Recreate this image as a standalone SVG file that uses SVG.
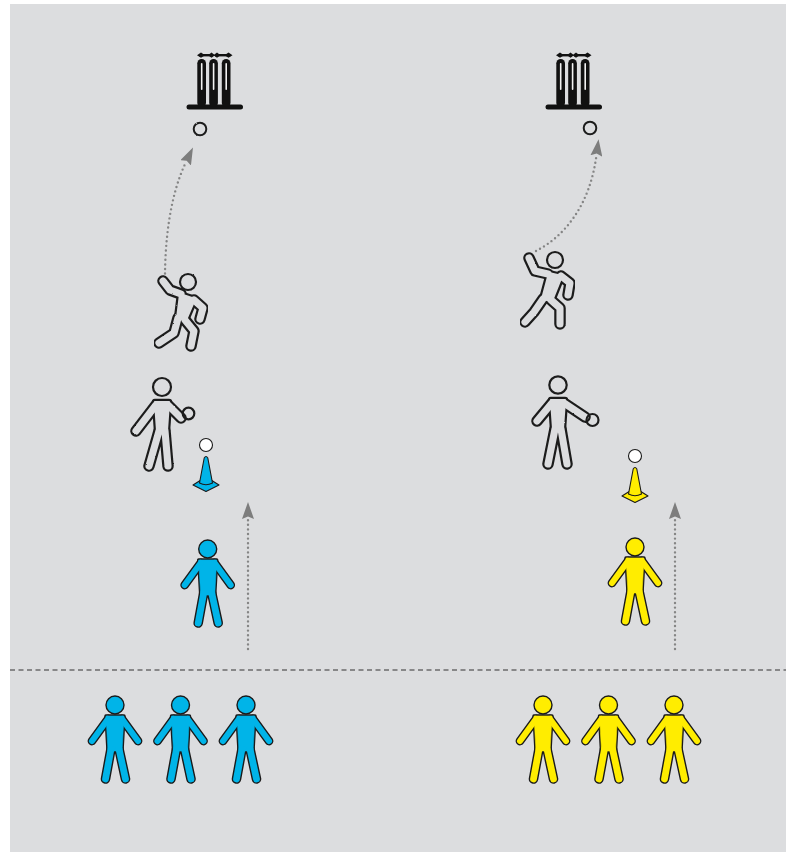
<svg xmlns="http://www.w3.org/2000/svg" xmlns:xlink="http://www.w3.org/1999/xlink" width="790" height="852" viewBox="0 0 790 852">
  <style>
    .dots { fill: none; stroke: #858585; stroke-width: 2.4; stroke-linecap: round; stroke-dasharray: 0 4.6; }
    .line { stroke: #333; stroke-width: 1.2; stroke-dasharray: 5 3.5; fill: none; }
    /* outlined (ghost) figures: dark pass then field-coloured pass */
    .ghost { filter: url(#rough); }
    .ot { fill: #1e1e1e; stroke: #1e1e1e; stroke-width: 6.4; stroke-linejoin: round; }
    .ol { fill: none; stroke: #1e1e1e; stroke-width: 11.5; stroke-linecap: round; stroke-linejoin: round; }
    .it { fill: #dcdddf; stroke: #dcdddf; stroke-width: 2; stroke-linejoin: round; }
    .il { fill: none; stroke: #dcdddf; stroke-width: 7.1; stroke-linecap: round; stroke-linejoin: round; }
    .oh { fill: none; stroke: #1e1e1e; stroke-width: 2.2; }
    /* solid player */
    .kt { fill: #1a1a1a; stroke: #1a1a1a; stroke-width: 3.4; stroke-linejoin: round; }
    .ka { fill: none; stroke: #1a1a1a; stroke-width: 8.8; stroke-linecap: round; }
    .kl { fill: none; stroke: #1a1a1a; stroke-width: 9.6; stroke-linecap: round; }
    .ct { fill: currentColor; stroke: currentColor; stroke-width: 0.6; stroke-linejoin: round; }
    .ca { fill: none; stroke: currentColor; stroke-width: 6; stroke-linecap: round; }
    .cl { fill: none; stroke: currentColor; stroke-width: 6.8; stroke-linecap: round; }
    .ch { fill: currentColor; stroke: #1a1a1a; stroke-width: 1.4; }
    .ball { fill: none; stroke: #1e1e1e; stroke-width: 2; }
    .stump { fill: #111; }
    .slit { fill: #f2f2f2; }
  </style>
  <defs>
    <filter id="rough" x="-10%" y="-10%" width="120%" height="120%">
      <feTurbulence type="fractalNoise" baseFrequency="0.9" numOctaves="1" seed="4"/>
      <feDisplacementMap in="SourceGraphic" scale="1.8" xChannelSelector="R" yChannelSelector="G"/>
    </filter>
    <marker id="head" viewBox="0 -6 18 12" refX="1" refY="0" markerWidth="18" markerHeight="12" markerUnits="userSpaceOnUse" orient="auto">
      <path d="M0,-6 L17,0 L0,6 L2.5,0 Z" fill="#7d7d7d"/>
    </marker>
    <!-- standing player, head centre at origin -->
    <g id="person">
      <path class="kt" d="M-9,11 L9,11 L7,46 L-7,46 Z"/>
      <path class="ka" d="M-7,14 L-23,36 M7,14 L23,36"/>
      <path class="kl" d="M-4,44 L-9.5,74 M4,44 L10.5,74"/>
      <path class="ct" d="M-9,11 L9,11 L7,46 L-7,46 Z"/>
      <path class="ca" d="M-7,14 L-23,36 M7,14 L23,36"/>
      <path class="cl" d="M-4,44 L-9.5,74 M4,44 L10.5,74"/>
      <circle class="ch" r="9"/>
    </g>
    <!-- marker cone, base centre at origin -->
    <g id="cone">
      <path d="M-13,0 L-5,-5 L5,-5 L13,0 L0,6.5 Z" fill="currentColor" stroke="#1a1a1a" stroke-width="1.1" stroke-linejoin="round"/>
      <path d="M-1.8,-27 Q0,-30 1.8,-27 L6.5,-2 Q0,1.5 -6.5,-2 Z" fill="currentColor" stroke="#1a1a1a" stroke-width="1.1" stroke-linejoin="round"/>
      <circle cx="0" cy="-40" r="6.5" fill="#fff" stroke="#1a1a1a" stroke-width="1.1"/>
    </g>
    <!-- wicket -->
    <g id="wicket">
      <rect x="186.5" y="104.5" width="56.5" height="5" rx="2.5" fill="#111"/>
      <rect class="stump" x="197.3" y="59" width="8.7" height="48" rx="4.3"/>
      <rect class="stump" x="209.2" y="59" width="8.7" height="48" rx="4.3"/>
      <rect class="stump" x="221.8" y="59" width="8.7" height="48" rx="4.3"/>
      <rect class="slit" x="200.9" y="63" width="1.6" height="27" rx="0.8"/>
      <rect class="slit" x="212.8" y="63" width="1.6" height="27" rx="0.8"/>
      <rect class="slit" x="225.4" y="63" width="1.6" height="27" rx="0.8"/>
      <g fill="#111">
        <rect x="199" y="54" width="14" height="2.4"/>
        <rect x="215" y="54" width="15.5" height="2.4"/>
        <path d="M197,55.2 L201,52.6 L205,55.2 L201,57.8 Z"/>
        <path d="M208,55.2 L211.5,52.6 L215,55.2 L211.5,57.8 Z"/>
        <path d="M213.5,55.2 L217,52.6 L220.5,55.2 L217,57.8 Z"/>
        <path d="M224.5,55.2 L228.5,52.6 L232.5,55.2 L228.5,57.8 Z"/>
      </g>
    </g>
    <!-- ghost figure skeletons -->
    <path id="r1t" d="M180,294 L195,299 L186,320 L177,318 Z"/>
    <path id="r1l" d="M181,294 L170,290 L163,281 M194,300 L203,308 L200,319 M178,318 L174,333 L159,343 M185,320 L194,331 L191,346"/>
    <path id="s1t" d="M155,402 L169,402 L167,431 L157,431 Z"/>
    <path id="s1l" d="M156,405 L136,431 M168,405 L181,418 M159,431 L149,466 M165,431 L168,466"/>
    <path id="r2t" d="M549,273 L562,276 L552,301 L542,299 Z"/>
    <path id="r2l" d="M548,274 L535,271 L529,258 M561,276 L570,283 L568,295 M543,299 L534,312 L525,322 M551,300 L560,308 L560,324"/>
    <path id="s2t" d="M551,400 L565,400 L563,429 L553,429 Z"/>
    <path id="s2l" d="M552,403 L537,421 M564,403 L585,417 M555,429 L548,464 M561,429 L567,464"/>
  </defs>

  <!-- field -->
  <rect x="10" y="4" width="776" height="848" fill="#dcdddf"/>

  <!-- connectors -->
  <g id="connectors">
    <path class="dots" d="M165,278 C165,240 170,195 186,162" marker-end="url(#head)"/>
    <path class="dots" d="M536,251 C565,236 590,205 596.5,155" marker-end="url(#head)"/>
    <path class="dots" d="M248,649 L248,518" marker-end="url(#head)"/>
    <path class="dots" d="M675,649 L675,518" marker-end="url(#head)"/>
    <path class="line" d="M10,670 L786,670"/>
  </g>

  <!-- left lane -->
  <g id="wicket-left"><use href="#wicket"/></g>
  <g id="ball-left" class="ghost"><circle class="ball" cx="200" cy="129" r="6.3"/></g>
  <g id="bowler-left" class="ghost">
    <use href="#r1t" class="ot"/><use href="#r1l" class="ol"/>
    <use href="#r1t" class="it"/><use href="#r1l" class="il"/>
    <circle class="oh" cx="188" cy="282" r="8"/>
  </g>
  <g id="feeder-left" class="ghost">
    <use href="#s1t" class="ot"/><use href="#s1l" class="ol"/>
    <use href="#s1t" class="it"/><use href="#s1l" class="il"/>
    <circle class="oh" cx="162" cy="387" r="9"/>
    <circle class="oh" cx="188.5" cy="413.5" r="5.8"/>
  </g>
  <g id="cone-left" style="color:#00b4e8"><use href="#cone" x="206" y="485"/></g>
  <g id="runner-left" style="color:#00b4e8"><use href="#person" x="207.7" y="549"/></g>
  <g id="queue-left" style="color:#00b4e8">
    <use href="#person" x="115" y="705"/>
    <use href="#person" x="180.5" y="705"/>
    <use href="#person" x="246" y="705"/>
  </g>

  <!-- right lane -->
  <g id="wicket-right"><use href="#wicket" x="359"/></g>
  <g id="ball-right" class="ghost"><circle class="ball" cx="590" cy="128" r="6.3"/></g>
  <g id="bowler-right" class="ghost">
    <use href="#r2t" class="ot"/><use href="#r2l" class="ol"/>
    <use href="#r2t" class="it"/><use href="#r2l" class="il"/>
    <circle class="oh" cx="555" cy="260" r="8"/>
  </g>
  <g id="feeder-right" class="ghost">
    <use href="#s2t" class="ot"/><use href="#s2l" class="ol"/>
    <use href="#s2t" class="it"/><use href="#s2l" class="il"/>
    <circle class="oh" cx="558" cy="385" r="8.7"/>
    <circle class="oh" cx="592.5" cy="420" r="6"/>
  </g>
  <g id="cone-right" style="color:#ffed00"><use href="#cone" x="635" y="496"/></g>
  <g id="runner-right" style="color:#ffed00"><use href="#person" x="635" y="547"/></g>
  <g id="queue-right" style="color:#ffed00">
    <use href="#person" x="543" y="705"/>
    <use href="#person" x="608.5" y="705"/>
    <use href="#person" x="674" y="705"/>
  </g>
</svg>
